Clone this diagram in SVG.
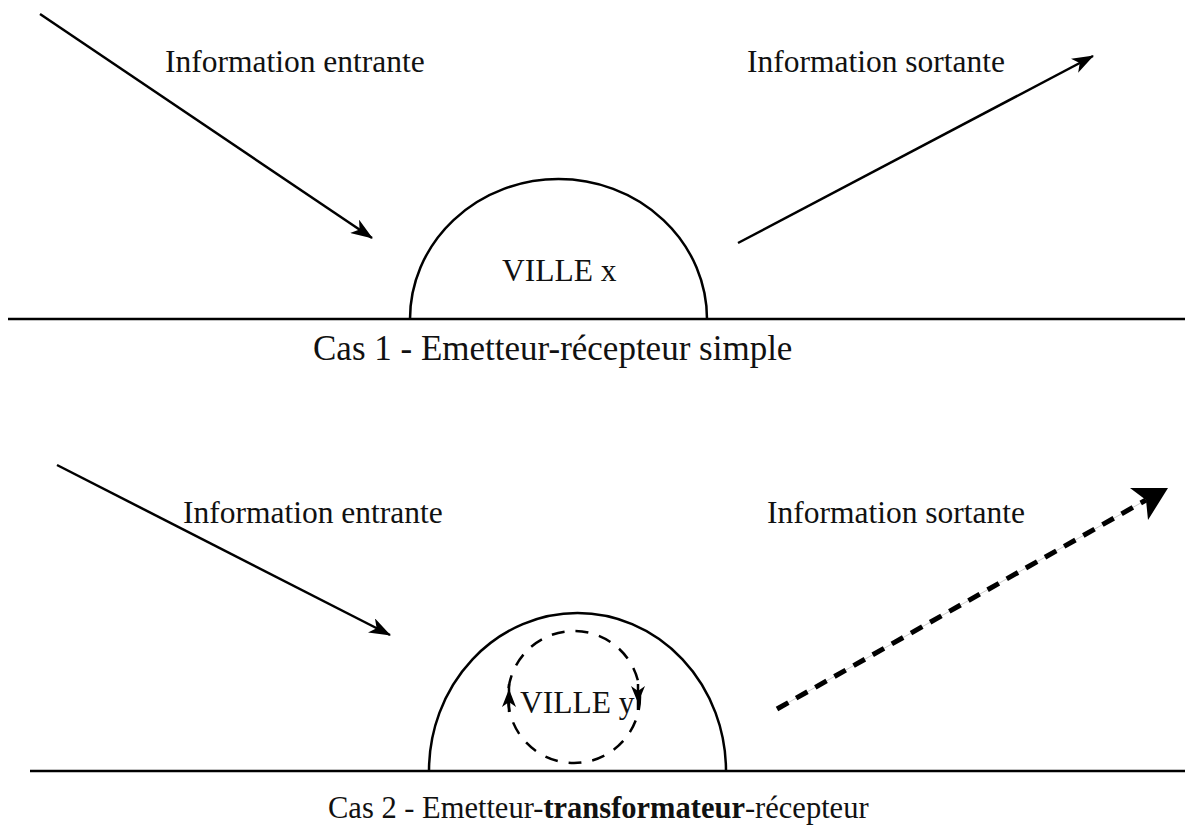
<svg xmlns="http://www.w3.org/2000/svg" width="1185" height="834" viewBox="0 0 1185 834">
<style>
text{font-family:"Liberation Serif","Times New Roman",serif;font-size:31.5px;fill:#111}
.ln{stroke:#000;stroke-width:2.5;fill:none}
.b{font-weight:bold}
</style>
<defs>
<marker id="ah" markerUnits="userSpaceOnUse" markerWidth="22" markerHeight="16" viewBox="0 0 22 16" refX="21" refY="8" orient="auto">
<path d="M0,0 L22,8 L0,16 L6,8 z" fill="#000"/>
</marker>
</defs>
<rect width="1185" height="834" fill="#fff"/>
<g id="case1">
<line class="ln" x1="8" y1="319" x2="1185" y2="319"/>
<g id="ville-x">
<path class="ln" d="M410,319 A148.5,140 0 0 1 707,319"/>
<text x="502" y="281">VILLE x</text>
</g>
<text id="in1" x="165" y="72">Information entrante</text>
<text id="out1" x="747" y="72">Information sortante</text>
<text id="cap1" x="313" y="360" style="font-size:35px">Cas 1 - Emetteur-récepteur simple</text>
</g>
<g id="case2">
<line class="ln" x1="30" y1="771" x2="1185" y2="771"/>
<g id="ville-y">
<path class="ln" d="M429,771 A148.5,158 0 0 1 726,771"/>
<circle cx="574" cy="697" r="66" fill="none" stroke="#000" stroke-width="2.5" stroke-dasharray="13,11"/>
<line x1="509" y1="684" x2="509" y2="712" stroke="#000" stroke-width="2.5"/>
<path d="M509,689 L502,707 L509,702 L516,707 z" fill="#000"/>
<line x1="638" y1="684" x2="638" y2="710" stroke="#000" stroke-width="2.5"/>
<path d="M638,703 L631,686 L638,691 L645,686 z" fill="#000"/>
<text x="520" y="713">VILLE y</text>
</g>
<text id="in2" x="183" y="523">Information entrante</text>
<text id="out2" x="767" y="523">Information sortante</text>
<text id="cap2" x="328" y="818" style="font-size:30.5px">Cas 2 - Emetteur-<tspan class="b">transformateur</tspan>-récepteur</text>
</g>
<g id="connectors">
<line class="ln" x1="40" y1="14" x2="372" y2="238" marker-end="url(#ah)"/>
<line class="ln" x1="738" y1="243" x2="1093" y2="56" marker-end="url(#ah)"/>
<line class="ln" x1="57" y1="465" x2="390" y2="635" marker-end="url(#ah)"/>
<line x1="777" y1="709" x2="1146" y2="500" stroke="#ccc" stroke-width="1"/>
<line x1="777" y1="709" x2="1146" y2="500" stroke="#000" stroke-width="5" stroke-dasharray="13,9"/>
<path d="M1168,488 L1130,488 L1146,500 L1148,520 z" fill="#000"/>
</g>
</svg>
